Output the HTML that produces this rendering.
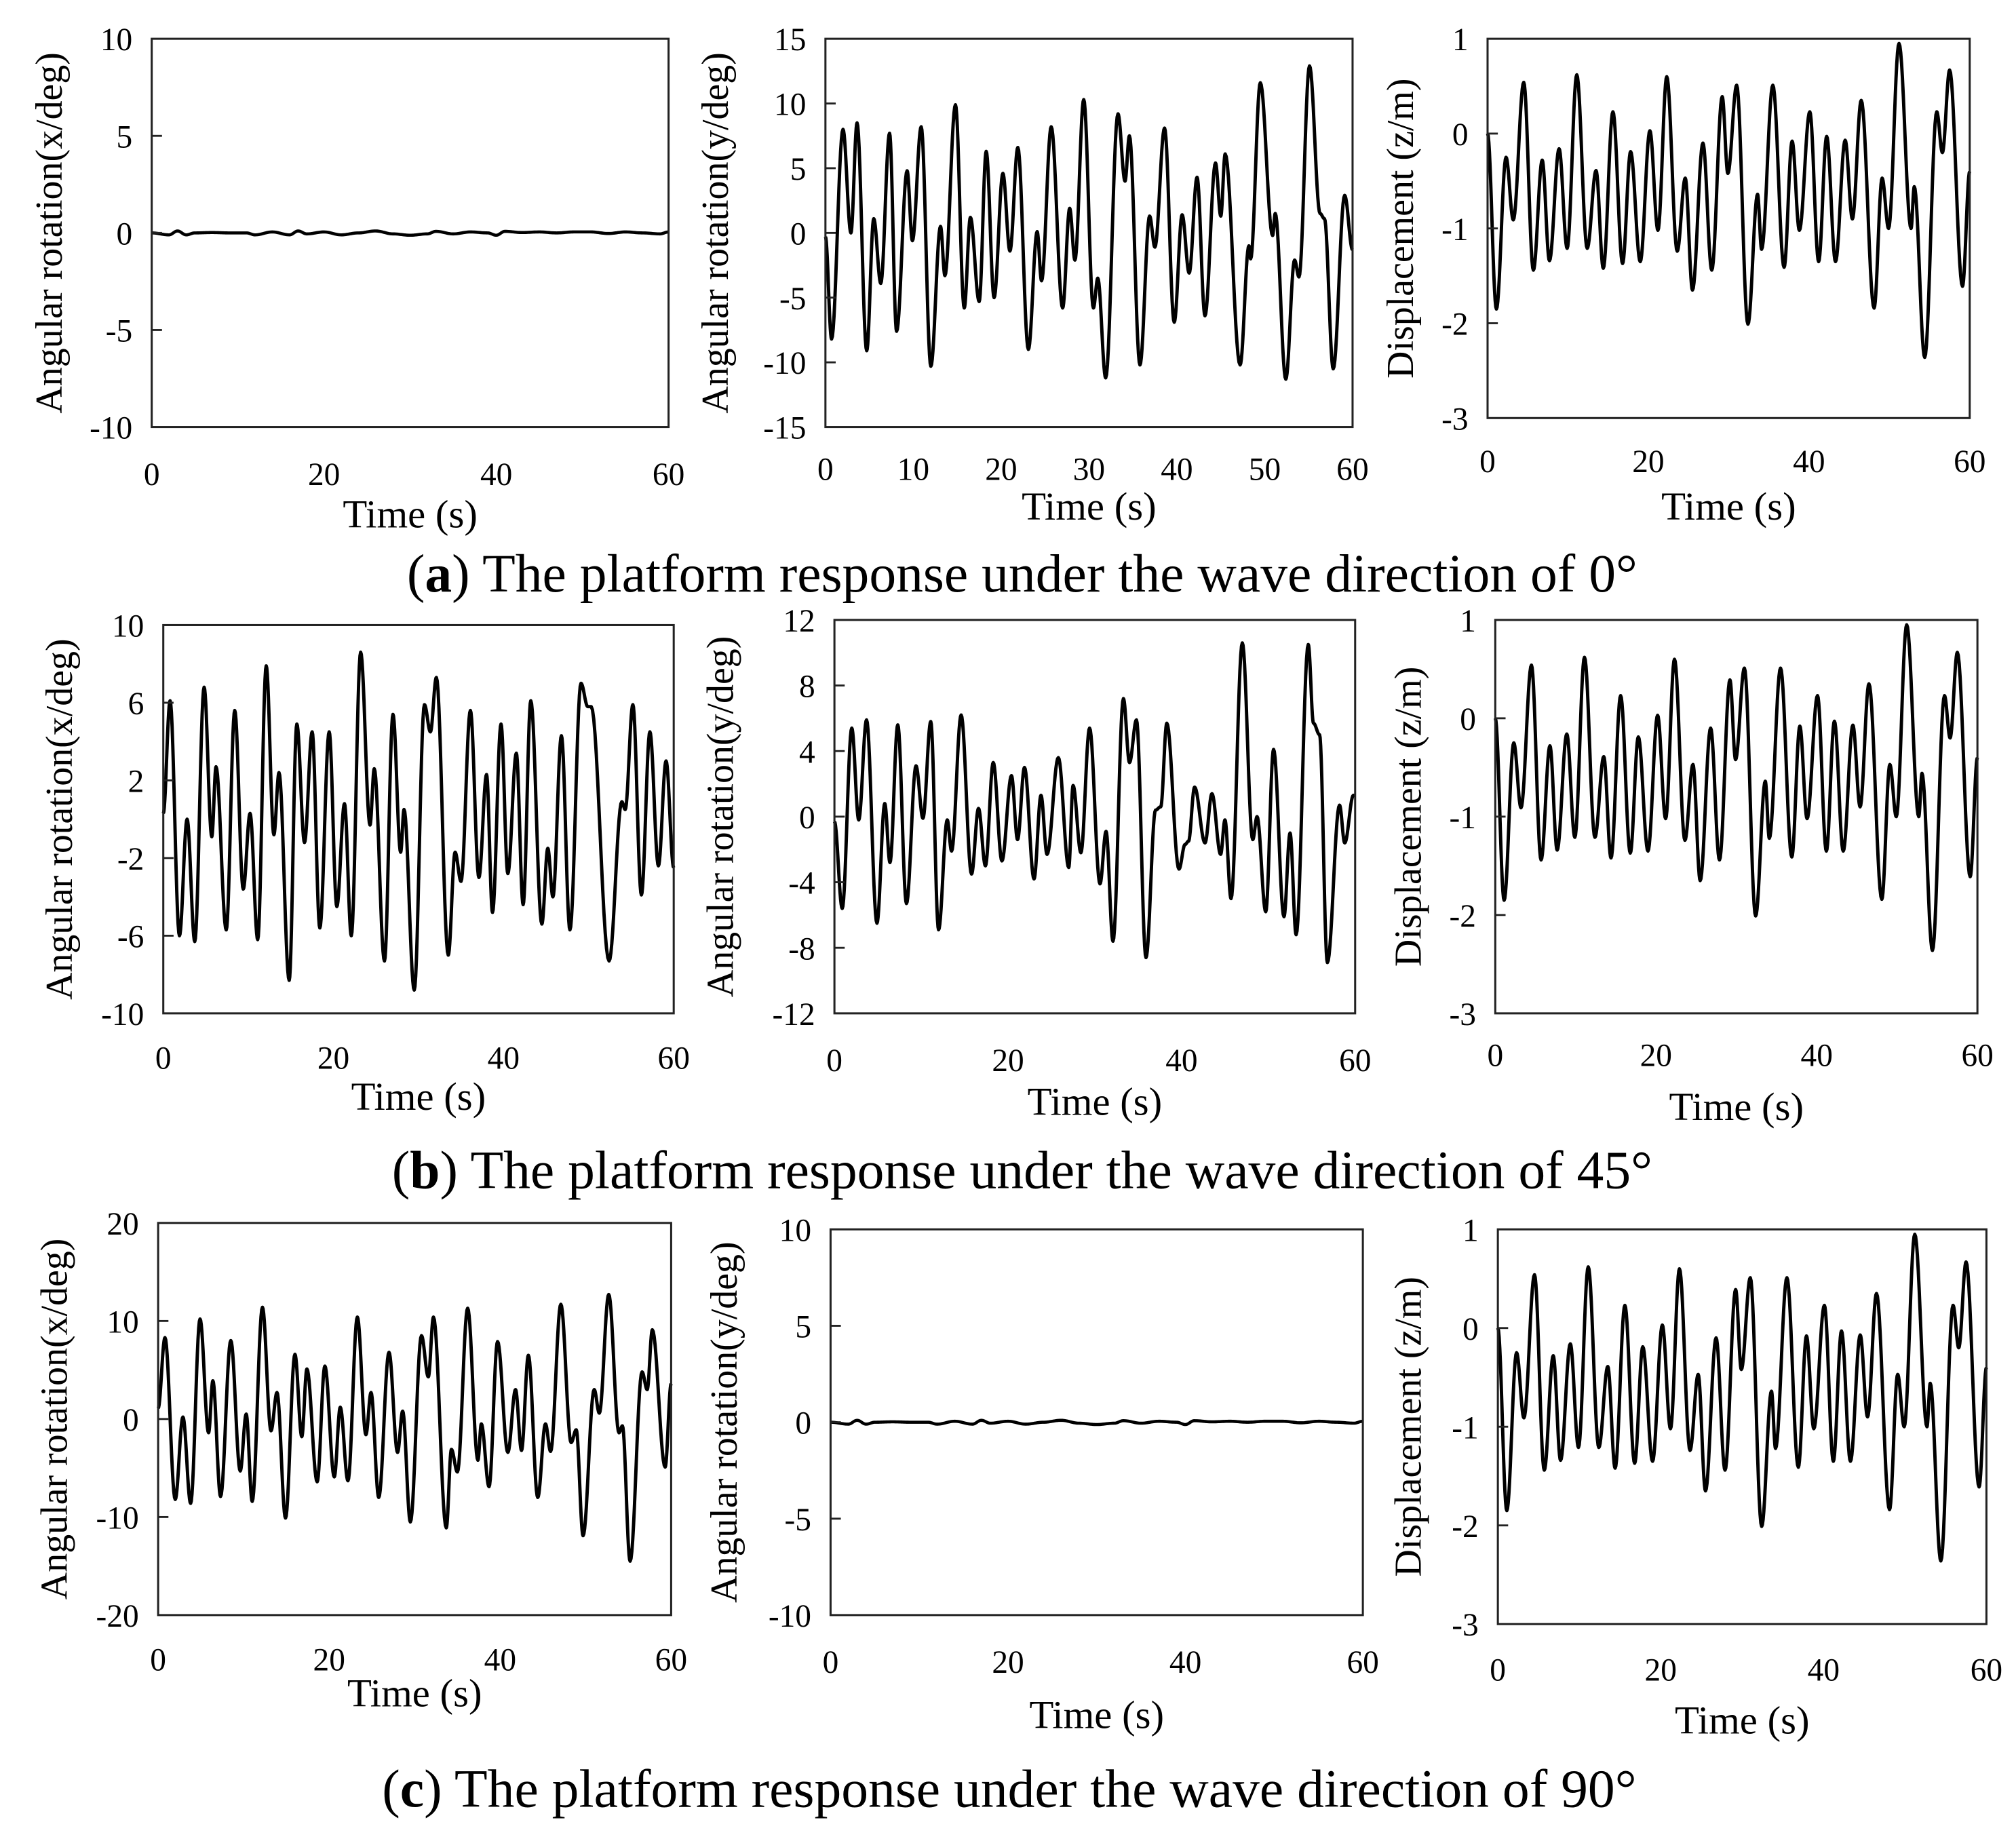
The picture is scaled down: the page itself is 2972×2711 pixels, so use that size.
<!DOCTYPE html>
<html><head><meta charset="utf-8"><style>
html,body{margin:0;padding:0;background:#fff}
svg{display:block}
text{font-family:"Liberation Serif",serif;fill:#000}
</style></head><body>
<svg id="fig" width="2972" height="2711" viewBox="0 0 1568 1430" xmlns="http://www.w3.org/2000/svg">
<text x="795" y="460" font-size="42" text-anchor="middle">(<tspan font-weight="bold">a</tspan>) The platform response under the wave direction of 0°</text>
<text x="795" y="924" font-size="42" text-anchor="middle">(<tspan font-weight="bold">b</tspan>) The platform response under the wave direction of 45°</text>
<text x="785" y="1405" font-size="42" text-anchor="middle">(<tspan font-weight="bold">c</tspan>) The platform response under the wave direction of 90°</text>
</svg>
<script>
// ---- data (extrema of each time series: time s, value) ----
const flatT = [0,2,3,4,5,7,9,11,12,14,16,17,18,20,22,24,26,28,30,32,33,35,37,39,40,41,43,45,47,49,51,53,55,57,59,60];
const flatV = [0,-0.1,0.1,-0.1,0,0.02,0,0,-0.1,0.05,-0.1,0.1,-0.05,0.05,-0.1,0,0.1,-0.05,-0.12,-0.05,0.08,-0.05,0.05,0,-0.12,0.08,0.02,0.05,0,0.05,0.05,-0.03,0.05,0,-0.05,0.05];

const a2T = [0,0.7,2,2.9,3.6,4.7,5.5,6.3,7.3,8.1,9.3,9.9,10.9,12,13.1,13.6,14.8,15.8,16.5,17.5,18.3,19.2,20.2,21,21.9,23.1,24.1,24.6,25.7,27,27.8,28.4,29.4,30.5,31,31.9,33.3,34.1,34.6,35.8,36.9,37.5,38.6,39.7,40.6,41.4,42.3,43.2,44.4,45,45.5,47.2,48.2,48.4,49.5,50.9,51.2,52.4,53.4,53.9,55.1,56.3,56.8,57.8,59.1,60];
const a2V = [-0.3,-8.2,8,0,8.5,-9.1,1.1,-3.9,7.7,-7.6,4.8,-0.6,8.2,-10.3,0.5,-3.3,9.9,-5.8,1.2,-5.3,6.3,-5,4.6,-1.4,6.6,-9,0.1,-3.7,8.2,-5.8,1.9,-2.1,10.3,-5.8,-3.5,-11.2,9.2,4,7.5,-10.2,1.3,-1.1,8.1,-6.9,1.4,-3.1,4.3,-6.4,5.4,1.3,6.1,-10.2,-1,-2,11.6,-0.2,1.5,-11.3,-2.1,-3.4,12.9,1.5,1.1,-10.5,2.9,-1.3];

const zT = [0,1.1,2.3,3.2,4.5,5.7,6.8,7.7,8.9,9.9,11.1,12.4,13.5,14.4,15.6,16.8,17.8,19,20.2,21.2,22.3,23.6,24.6,25.5,26.8,27.9,29.2,29.9,31,32.4,33.6,34.1,35.5,36.9,37.9,38.8,40.1,41.2,42.2,43.3,44.5,45.4,46.5,48.1,49.1,49.9,51.2,52.7,53.1,54.4,55.9,56.6,57.5,59.1,60];
const zV = [0,-1.85,-0.25,-0.91,0.54,-1.44,-0.28,-1.34,-0.16,-1.21,0.62,-1.21,-0.39,-1.42,0.23,-1.37,-0.19,-1.35,0.03,-1.02,0.6,-1.24,-0.47,-1.65,-0.1,-1.44,0.39,-0.42,0.51,-2.01,-0.64,-1.22,0.51,-1.41,-0.08,-1.02,0.23,-1.35,-0.03,-1.35,-0.07,-0.9,0.35,-1.84,-0.47,-1,0.95,-1,-0.56,-2.36,0.23,-0.2,0.67,-1.61,-0.4];

const b1T = [0,0.8,1.9,2.8,3.7,4.8,5.7,6.2,7.4,8.4,9.4,10.2,11.1,12.1,13,13.6,14.8,15.7,16.6,17.5,18.4,19.5,20.4,21.3,22.1,23.2,24.3,24.8,26,27,27.9,28.3,29.5,30.7,31.4,32.1,33.5,34.3,35,36.1,37.1,38,38.7,39.7,40.5,41.5,42.3,43.2,44.5,45.2,45.8,46.8,47.8,49.1,49.9,50.3,52.4,53.9,54.3,55.2,56.2,57.2,58.2,59.1,60];
const b1V = [0.3,6.1,-6,0,-6.3,6.8,-0.9,2.7,-5.7,5.6,-3.6,0.3,-6.2,7.9,-0.8,2.4,-8.3,4.9,-1.2,4.5,-5.6,4.5,-4.5,0.8,-6,8.6,-0.3,2.6,-7.3,5.4,-1.7,0.5,-8.8,5.9,4.5,7.3,-7,-1.7,-3.2,5.6,-3,2.3,-4.8,4.9,-2.8,3.4,-4.4,6.1,-5.4,-1.5,-4,4.3,-5.7,7,5.8,5.8,-7.3,0.9,0.5,5.9,-3.9,4.5,-2.4,3,-2.5];

const b2T = [0,0.9,2,2.8,3.7,4.9,5.8,6.4,7.3,8.3,9.4,10.2,11.1,12,13,13.5,14.6,15.8,16.6,17.4,18.3,19.3,20.4,21.1,21.9,23,23.8,24.5,25.8,27,27.5,28.4,29.4,30.6,31.3,32.1,33.3,34,34.8,35.9,37,37.6,38.3,39.7,40.4,40.8,41.5,42.7,43.5,44.5,45,45.7,47,48.2,48.7,49.7,50.6,51.8,52.5,53.2,54.6,55.2,55.9,56.8,58.2,58.8,59.8,60];
const b2V = [-0.3,-5.6,5.4,-0.2,5.9,-6.5,0.8,-2.8,5.6,-5.3,3.1,-0.1,5.8,-6.9,-0.2,-2.1,6.2,-3.5,0.5,-3,3.3,-2.7,2.5,-1.4,3,-3.8,1.3,-2.3,3.6,-3.1,1.9,-2.2,5.4,-4.1,-0.9,-7.6,7.2,3.3,5.9,-8.6,0.4,0.6,5.7,-3.2,-1.7,-1.5,1.8,-1.6,1.4,-2.3,-0.2,-5,10.6,-1.4,0,-5.8,4.1,-6.1,-1,-7.2,10.5,5.7,5,-8.9,0.7,-1.6,1.3,1.3];

const c1T = [0,0.8,2,2.9,3.8,4.9,5.9,6.4,7.3,8.5,9.6,10.3,11,12.2,13.2,13.9,14.9,16,16.8,17.4,18.6,19.5,20.6,21.3,22.2,23.3,24.3,24.9,25.8,27,28,28.6,29.5,30.8,31.6,32.2,33.7,34.3,35,36.2,37.4,37.8,38.7,39.7,40.9,41.8,42.5,43.3,44.4,45.3,45.9,47.1,48.3,48.9,49.7,51,51.6,52.7,53.9,54.3,55.2,56.6,57.2,57.8,59.3,60];
const c1V = [1.1,8.3,-8.2,0.2,-8.6,10.2,-1.4,3.9,-7.9,8,-5.3,0.5,-8.4,11.4,-1.2,2.7,-10.1,6.6,-1.8,5.1,-6.4,5.4,-5.9,1.2,-6.3,10.4,-1.6,2.7,-8,6.8,-3.4,0.8,-10.5,8.5,4.3,10.4,-11.1,-3.1,-5.4,11.3,-4.2,-0.5,-6.9,7.9,-3.4,3,-3.2,6.5,-8,-0.5,-3.3,11.7,-2.4,-1.1,-11.9,3,0.6,12.7,-1.4,-0.7,-14.5,4.8,3,9.1,-4.9,3.6];

// tick label arrays
const ticks10by5 = [10,5,0,-5,-10];
const ticks15by5 = [15,10,5,0,-5,-10,-15];
const ticksZ = [1,0,-1,-2,-3];
const ticks10by4 = [10,6,2,-2,-6,-10];
const ticks12by4 = [12,8,4,0,-4,-8,-12];
const ticks20by10 = [20,10,0,-10,-20];
const xTicks20 = [0,20,40,60];
const xTicks10 = [0,10,20,30,40,50,60];

const NS = 'http://www.w3.org/2000/svg';
const svg = document.getElementById('fig');
function mk(tag, attrs, parent){const e=document.createElementNS(NS,tag);for(const k in attrs)e.setAttribute(k,attrs[k]);(parent||svg).appendChild(e);return e;}

function panel(o){
  const g = mk('g',{});
  
  
  const yMax=o.yt[0], yMin=o.yt[o.yt.length-1];
  const sx=t=>o.x0+(t-0)/(60-0)*(o.x1-o.x0);
  const sy=v=>o.y0+(yMax-v)/(yMax-yMin)*(o.y1-o.y0);
  let d='';
  for(let i=0;i<o.T.length;i++){
    if(i===0){d+='M'+sx(o.T[0]).toFixed(2)+' '+sy(o.V[0]).toFixed(2);continue;}
    const t0=o.T[i-1],t1=o.T[i],v0=o.V[i-1],v1=o.V[i];
    const n=14;
    for(let k=1;k<=n;k++){const u=k/n;const w=(1-Math.cos(Math.PI*u))/2;d+=' L'+sx(t0+(t1-t0)*u).toFixed(2)+' '+sy(v0+(v1-v0)*w).toFixed(2);}
  }
  const line=mk('path',{d:d,fill:'none',stroke:'#000','stroke-width':o.lw||2.6,'stroke-linejoin':'round'},g);
  
  
  const box=mk('rect',{x:o.x0,y:o.y0,width:o.x1-o.x0,height:o.y1-o.y0,fill:'none',stroke:'#222','stroke-width':1.6},g);
  
  
  o.yt.forEach(v=>{
    const y=sy(v);
    if(v!==yMax&&v!==yMin) mk('line',{x1:o.x0,x2:o.x0+8,y1:y,y2:y,stroke:'#222','stroke-width':1.5},g);
    const tx=mk('text',{x:o.x0-15,y:y+9,'font-size':25,'text-anchor':'end'},g);
    
    
    tx.textContent=v;
  });
  o.xt.forEach(t=>{
    const tx=mk('text',{x:sx(t),y:o.xly,'font-size':25,'text-anchor':'middle'},g);
    
    
    tx.textContent=t;
  });
  const xt=mk('text',{x:(o.x0+o.x1)/2,y:o.xty,'font-size':31,'text-anchor':'middle'},g);
  
  
  xt.textContent='Time (s)';
  const yc=(o.y0+o.y1)/2;
  const yt=mk('text',{x:o.ytx,y:yc,'font-size':29.5,'text-anchor':'middle',transform:'rotate(-90 '+o.ytx+' '+yc+')'},g);
  
  
  yt.textContent=o.ylab;
}

const LX='Angular rotation(x/deg)', LY='Angular rotation(y/deg)', LZ='Displacement  (z/m)';
panel({name:'panel-a-roll',x0:118,x1:520,y0:30,y1:332,yt:ticks10by5,xt:xTicks20,T:flatT,V:flatV,xly:377,xty:410,ytx:48,ylab:LX,lw:2.4});
panel({name:'panel-a-pitch',x0:642,x1:1052,y0:30,y1:332,yt:ticks15by5,xt:xTicks10,T:a2T,V:a2V,xly:373,xty:404,ytx:566,ylab:LY});
panel({name:'panel-a-heave',x0:1157,x1:1532,y0:30,y1:325,yt:ticksZ,xt:xTicks20,T:zT,V:zV,xly:367,xty:404,ytx:1099,ylab:LZ});
panel({name:'panel-b-roll',x0:127,x1:524,y0:486,y1:788,yt:ticks10by4,xt:xTicks20,T:b1T,V:b1V,xly:831,xty:863,ytx:56,ylab:LX});
panel({name:'panel-b-pitch',x0:649,x1:1054,y0:482,y1:788,yt:ticks12by4,xt:xTicks20,T:b2T,V:b2V,xly:833,xty:867,ytx:570,ylab:LY});
panel({name:'panel-b-heave',x0:1163,x1:1538,y0:482,y1:788,yt:ticksZ,xt:xTicks20,T:zT,V:zV,xly:829,xty:871,ytx:1105,ylab:LZ});
panel({name:'panel-c-roll',x0:123,x1:522,y0:951,y1:1256,yt:ticks20by10,xt:xTicks20,T:c1T,V:c1V,xly:1299,xty:1327,ytx:52,ylab:LX});
panel({name:'panel-c-pitch',x0:646,x1:1060,y0:956,y1:1256,yt:ticks10by5,xt:xTicks20,T:flatT,V:flatV,xly:1301,xty:1344,ytx:573,ylab:LY,lw:2.4});
panel({name:'panel-c-heave',x0:1165,x1:1545,y0:956,y1:1263,yt:ticksZ,xt:xTicks20,T:zT,V:zV,xly:1307,xty:1348,ytx:1105,ylab:LZ});
</script>
</body></html>
